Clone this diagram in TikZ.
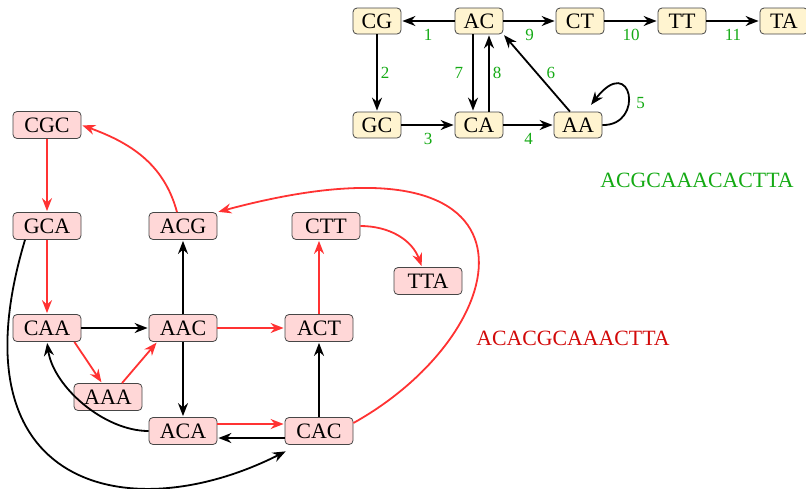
\documentclass[tikz,border=0pt]{standalone}
\usepackage{fontspec}
\setmainfont{Liberation Serif}
\usetikzlibrary{arrows.meta, positioning}

\definecolor{pairfill}{RGB}{255,244,208}
\definecolor{triplefill}{RGB}{255,215,215}
\definecolor{boxline}{RGB}{70,70,70}
\definecolor{edgered}{RGB}{255,50,50}
\definecolor{numgreen}{RGB}{20,170,20}
\definecolor{textred}{RGB}{210,10,10}

\begin{document}
\begin{tikzpicture}[
    x=0.5pt, y=0.5pt,
    node distance=51pt and 51pt, on grid,
    pair/.style={rectangle, draw=boxline, rounded corners=2pt, fill=pairfill, minimum width=24pt, minimum height=13pt, inner sep=1.5pt, font=\fontsize{11}{13}\selectfont},
    triple/.style={pair, fill=triplefill, minimum width=34pt, minimum height=13.5pt},
    arrow/.style={line width=0.9pt, ->, >={Stealth[length=6.5pt, width=5pt]}, shorten >=0.5pt},
    redarrow/.style={arrow, draw=edgered},
    num/.style={text=numgreen, font=\fontsize{8.5}{10}\selectfont, inner sep=1.5pt},
    seq/.style={font=\fontsize{10.9}{13}\selectfont}
]
    \useasboundingbox (0,0) rectangle (806,-488);

    % pair graph
    \node[pair] (CG) at (377,-21) {CG};
    \node[pair, right=of CG] (AC) {AC};
    \node[pair, right=50.5pt of AC] (CT) {CT};
    \node[pair, right=of CT] (TT) {TT};
    \node[pair, right=of TT] (TA) {TA};
    \node[pair, below=52pt of CG] (GC) {GC};
    \node[pair, right=of GC] (CA) {CA};
    \node[pair, right=49.5pt of CA] (AA) {AA};

    \draw[arrow] (AC) -- node[num, below=2pt] {1} (CG);
    \draw[arrow] (CG) -- node[num, right] {2} (GC);
    \draw[arrow] (GC) -- node[num, below=2pt] {3} (CA);
    \draw[arrow] (CA) -- node[num, below=2pt] {4} (AA);
    \draw[arrow] (AA.east) .. controls (645,-126) and (632,-52) .. node[num, pos=0.4, right=2pt] {5} ([xshift=-6pt, yshift=3pt]AA.north east);
    \draw[arrow] ([xshift=-4pt]AA.north) -- node[num, right=3pt] {6} (AC.south east);
    \draw[arrow] ([xshift=-3pt]AC.south) -- node[num, left=3pt] {7} ([xshift=-3pt]CA.north);
    \draw[arrow] ([xshift=5pt]CA.north) -- node[num, right] {8} ([xshift=5pt]AC.south);
    \draw[arrow] (AC) -- node[num, below=2pt] {9} (CT);
    \draw[arrow] (CT) -- node[num, below=2pt] {10} (TT);
    \draw[arrow] (TT) -- node[num, below=2pt] {11} (TA);

    \node[seq, text=numgreen] (pairseq) at (697,-180) {ACGCAAACACTTA};

    % triple graph
    \node[triple] (CGC) at (47,-125) {CGC};
    \node[triple, below=50.5pt of CGC] (GCA) {GCA};
    \node[triple, below=of GCA] (CAA) {CAA};
    \node[triple, right=68pt of CAA] (AAC) {AAC};
    \node[triple, right=68pt of AAC] (ACT) {ACT};
    \node[triple, above=of AAC] (ACG) {ACG};
    \node[triple, above right=51pt and 3.5pt of ACT] (CTT) {CTT};
    \node[triple, below right=27.5pt and 51pt of CTT] (TTA) {TTA};
    \node[triple, below right=34.5pt and 30.5pt of CAA] (AAA) {AAA};
    \node[triple, below=51.5pt of AAC] (ACA) {ACA};
    \node[triple, right=68pt of ACA] (CAC) {CAC};

    \draw[redarrow] (CGC) -- (GCA);
    \draw[redarrow] (GCA) -- (CAA);
    \draw[redarrow] ([xshift=-3.5pt]CAA.south east) -- ([xshift=-3pt]AAA.north);
    \draw[redarrow] ([xshift=7pt]AAA.north) -- ([xshift=4.3pt]AAC.south west);
    \draw[redarrow] (AAC) -- (ACT);
    \draw[redarrow] (ACT.north) -- (ACT.north |- CTT.south);
    \draw[redarrow] (CTT.east) to[out=0, in=110] ([xshift=-3pt]TTA.north);
    \draw[redarrow] ([yshift=3.5pt]ACA.east) -- ([yshift=3.5pt]CAC.west);
    \draw[redarrow] ([yshift=4pt]CAC.east) .. controls (520,-330) and (560,-120) .. (ACG.north east);
    \draw[redarrow] ([xshift=-3pt]ACG.north) to[out=105, in=-20] (CGC.east);

    \draw[arrow] (CAA) -- (AAC);
    \draw[arrow] (AAC) -- (ACG);
    \draw[arrow] (AAC) -- (ACA);
    \draw[arrow] (CAC) -- (ACT);
    \draw[arrow] ([yshift=-3.5pt]CAC.west) -- ([yshift=-3.5pt]ACA.east);
    \draw[arrow] (ACA.west) to[out=180, in=-82, looseness=0.85] (CAA.south);
    \draw[arrow] ([xshift=-11pt]GCA.south) .. controls (-50,-490) and (130,-530) .. ([xshift=1pt, yshift=-3pt]CAC.south west);

    \node[seq, text=textred] (tripleseq) at (573,-338) {ACACGCAAACTTA};
\end{tikzpicture}
\end{document}
